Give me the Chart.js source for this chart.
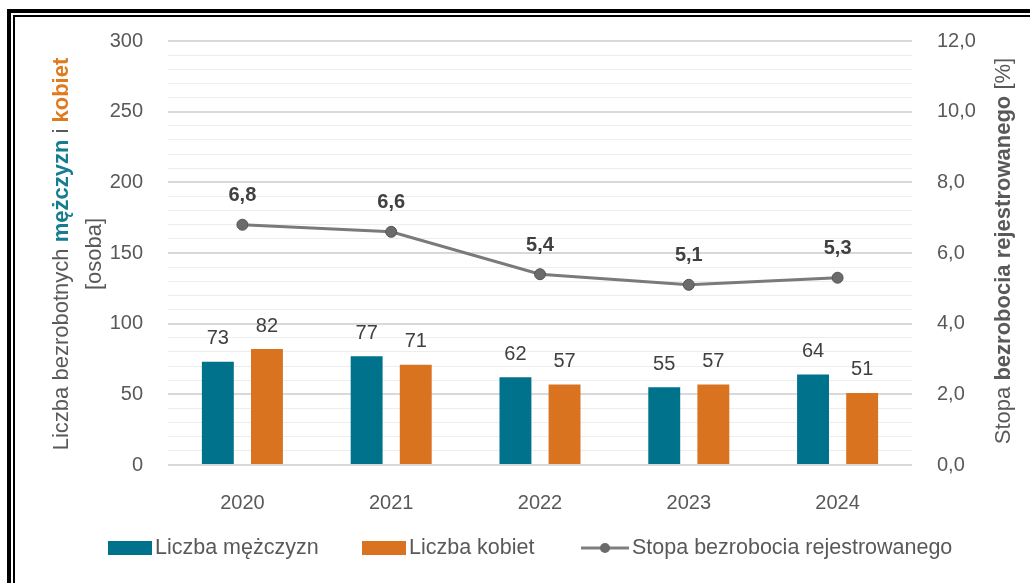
<!DOCTYPE html>
<html>
<head>
<meta charset="utf-8">
<script src="https://cdn.jsdelivr.net/npm/chart.js@4.4.1/dist/chart.umd.min.js"></script>
<style>
  html, body { margin: 0; padding: 0; background: #fff; }
  #wrap { position: relative; width: 1030px; height: 583px; overflow: hidden; }
  #myChart { position: absolute; left: 0; top: 0; }
  .frame1 { position: absolute; left: 7px; top: 9px; width: 2000px; height: 2000px;
            border-left: 4px solid #000; border-top: 4px solid #000; pointer-events: none; }
  .frame2 { position: absolute; left: 13px; top: 15px; width: 2000px; height: 2000px;
            border-left: 2px solid #000; border-top: 2px solid #000; pointer-events: none; }
</style>
</head>
<body>
<div id="wrap">
  <canvas id="myChart" width="1030" height="583"></canvas>
  <div class="frame1"></div>
  <div class="frame2"></div>
</div>
<script>
  const years = ['2020', '2021', '2022', '2023', '2024'];
  const men = [73, 77, 62, 55, 64];
  const women = [82, 71, 57, 57, 51];
  const rate = [6.8, 6.6, 5.4, 5.1, 5.3];

  const teal = '#00728b';
  const orange = '#d9731f';
  const gray = '#595959';
  const FONT = "'Liberation Sans', Arial, sans-serif";

  Chart.defaults.font.family = FONT;

  const comma = v => v.toFixed(1).replace('.', ',');

  // labels, axis titles and legend drawn by hand
  const extras = {
    id: 'extras',
    afterDatasetsDraw(chart) {
      const ctx = chart.ctx;
      ctx.save();
      ctx.textAlign = 'center';
      ctx.textBaseline = 'middle';
      chart.data.datasets.forEach((ds, i) => {
        const meta = chart.getDatasetMeta(i);
        meta.data.forEach((el, j) => {
          if (ds.type === 'line') {
            ctx.font = 'bold 20px ' + FONT;
            ctx.fillStyle = '#404040';
            ctx.fillText(comma(ds.data[j]), el.x, el.y - 29);
          } else {
            ctx.font = '20px ' + FONT;
            ctx.fillStyle = '#404040';
            ctx.fillText(String(ds.data[j]), el.x, el.y - 23);
          }
        });
      });
      ctx.restore();
    },
    afterDraw(chart) {
      const ctx = chart.ctx;
      const mid = (chart.chartArea.top + chart.chartArea.bottom) / 2;

      function richLine(parts, x, y) {
        // parts drawn rotated -90deg, centred on (x, y)
        ctx.save();
        ctx.translate(x, y);
        ctx.rotate(-Math.PI / 2);
        ctx.textBaseline = 'middle';
        ctx.textAlign = 'left';
        let total = 0;
        parts.forEach(p => { ctx.font = p[2] + FONT; total += ctx.measureText(p[0]).width; });
        let cx = -total / 2;
        parts.forEach(p => {
          ctx.font = p[2] + FONT;
          ctx.fillStyle = p[1];
          ctx.fillText(p[0], cx, 0);
          cx += ctx.measureText(p[0]).width;
        });
        ctx.restore();
      }

      richLine([
        ['Liczba bezrobotnych ', gray, '22px '],
        ['mężczyzn', '#147d8f', 'bold 22px '],
        [' i ', gray, '22px '],
        ['kobiet', '#e07a1c', 'bold 22px ']
      ], 62, mid + 1);
      richLine([['[osoba]', gray, '22px ']], 95, mid + 1);

      richLine([
        ['Stopa ', gray, '22px '],
        ['bezrobocia rejestrowanego', gray, 'bold 22px '],
        [' [%]', gray, '22px ']
      ], 1004, mid - 2);

      // legend
      const ly = 548;
      ctx.save();
      ctx.font = '21.5px ' + FONT;
      ctx.textBaseline = 'middle';
      ctx.textAlign = 'left';
      ctx.fillStyle = teal;
      ctx.fillRect(108, ly - 7, 44, 14);
      ctx.fillStyle = gray;
      ctx.fillText('Liczba mężczyzn', 155, ly);
      ctx.fillStyle = orange;
      ctx.fillRect(362, ly - 7, 44, 14);
      ctx.fillStyle = gray;
      ctx.fillText('Liczba kobiet', 409, ly);
      ctx.strokeStyle = '#7f7f7f';
      ctx.lineWidth = 3;
      ctx.beginPath();
      ctx.moveTo(581, ly);
      ctx.lineTo(629, ly);
      ctx.stroke();
      ctx.beginPath();
      ctx.arc(605, ly, 5, 0, Math.PI * 2);
      ctx.fillStyle = '#6b6b6b';
      ctx.fill();
      ctx.fillStyle = gray;
      ctx.fillText('Stopa bezrobocia rejestrowanego', 632, ly);
      ctx.restore();
    }
  };

  const data = {
    labels: years,
    datasets: [{
      type: 'line',
      label: 'Stopa bezrobocia rejestrowanego',
      data: rate,
      yAxisID: 'y1',
      borderColor: '#7a7a7a',
      borderWidth: 3,
      pointRadius: 5.5,
      pointBackgroundColor: '#6b6b6b',
      pointBorderColor: '#555555',
      pointBorderWidth: 1,
      tension: 0,
      order: 0
    }, {
      type: 'bar',
      label: 'Liczba mężczyzn',
      data: men,
      backgroundColor: teal,
      categoryPercentage: 0.66,
      barPercentage: 0.65,
      order: 1
    }, {
      type: 'bar',
      label: 'Liczba kobiet',
      data: women,
      backgroundColor: orange,
      categoryPercentage: 0.66,
      barPercentage: 0.65,
      order: 1
    }]
  };

  const config = {
    data,
    options: {
      responsive: false,
      animation: false,
      layout: { padding: { top: 41, left: 0, right: 0, bottom: 0 } },
      plugins: {
        legend: { display: false },
        tooltip: { enabled: false }
      },
      scales: {
        x: {
          grid: { display: false },
          border: { display: false },
          ticks: { color: gray, font: { size: 20 }, padding: 18 },
          afterFit(scale) { scale.height = 118; }
        },
        y: {
          position: 'left',
          min: 0,
          max: 300,
          border: { display: false },
          grid: {
            drawTicks: false,
            color: c => (c.tick.value % 50 === 0 ? '#d9d9d9' : '#ededed'),
            lineWidth: c => (c.tick.value % 50 === 0 ? 2 : 1)
          },
          ticks: {
            stepSize: 10,
            autoSkip: false,
            color: gray,
            font: { size: 20 },
            padding: 25,
            callback: v => (v % 50 === 0 ? v : '')
          },
          afterFit(scale) { scale.width = 168; }
        },
        y1: {
          position: 'right',
          min: 0,
          max: 12,
          border: { display: false },
          grid: { display: false, drawTicks: false },
          ticks: {
            stepSize: 2,
            color: gray,
            font: { size: 20 },
            padding: 25,
            callback: v => comma(v)
          },
          afterFit(scale) { scale.width = 118; }
        }
      }
    },
    plugins: [extras]
  };

  var myChart = new Chart(
    document.getElementById('myChart'),
    config
  );
</script>
</body>
</html>
